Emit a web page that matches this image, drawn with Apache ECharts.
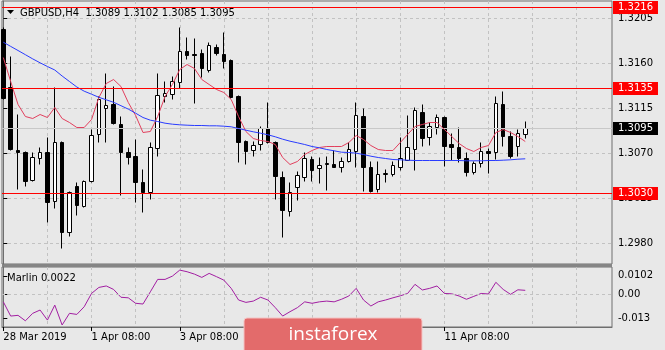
<!DOCTYPE html>
<html>
<head>
<meta charset="utf-8">
<title>GBPUSD H4</title>
<script src="https://cdn.jsdelivr.net/npm/echarts@6/dist/echarts.min.js"></script>
<style>
	html, body { margin: 0; padding: 0; background: #e8e8e8; }
	#myChart { width: 665px; height: 350px; }
</style>
</head>
<body>
<div id="myChart"></div>
<script>
// H4 bars, 28 Mar 2019 .. 12 Apr 2019
var opens = [1.3194, 1.3136, 1.3073, 1.3071, 1.3043, 1.3065, 1.3071, 1.3022, 1.3081, 1.2991,
	1.3037, 1.3017, 1.3042, 1.3089, 1.3115, 1.3119, 1.3099, 1.3071, 1.3067, 1.3041,
	1.3031, 1.3075, 1.3127, 1.3129, 1.3141, 1.3172, 1.3169, 1.3170, 1.3153, 1.3176,
	1.3169, 1.3163, 1.3127, 1.3082, 1.3073, 1.3079, 1.3095, 1.3081, 1.3046, 1.3012,
	1.3036, 1.3046, 1.3064, 1.3055, 1.3059, 1.3059, 1.3056, 1.3062, 1.3072, 1.3107,
	1.3056, 1.3034, 1.3049, 1.3049, 1.3056, 1.3063, 1.3074, 1.3111, 1.3086, 1.3096,
	1.3106, 1.3079, 1.3076, 1.3065, 1.3051, 1.3060, 1.3072, 1.3071, 1.3119, 1.3087,
	1.3077, 1.3089];
var highs = [1.3196, 1.3167, 1.3109, 1.3072, 1.3071, 1.3076, 1.3086, 1.3136, 1.3082, 1.3032,
	1.3041, 1.3043, 1.3094, 1.3127, 1.3150, 1.3137, 1.3107, 1.3076, 1.3084, 1.3054,
	1.3081, 1.3150, 1.3142, 1.3147, 1.3196, 1.3186, 1.3185, 1.3174, 1.3181, 1.3179,
	1.3191, 1.3164, 1.3128, 1.3083, 1.3082, 1.3097, 1.3121, 1.3082, 1.3052, 1.3041,
	1.3052, 1.3071, 1.3067, 1.3066, 1.3067, 1.3073, 1.3066, 1.3081, 1.3121, 1.3115,
	1.3062, 1.3062, 1.3054, 1.3062, 1.3086, 1.3108, 1.3116, 1.3119, 1.3101, 1.3109,
	1.3107, 1.3090, 1.3096, 1.3071, 1.3062, 1.3081, 1.3075, 1.3127, 1.3132, 1.3092,
	1.3094, 1.3102];
var lows = [1.3124, 1.3073, 1.3034, 1.3037, 1.3042, 1.3059, 1.3001, 1.3015, 1.2975, 1.2987,
	1.3008, 1.3016, 1.3041, 1.3081, 1.3081, 1.3099, 1.3028, 1.3059, 1.3021, 1.3011,
	1.3024, 1.3067, 1.3121, 1.3124, 1.3135, 1.3164, 1.3120, 1.3146, 1.3151, 1.3168,
	1.3155, 1.3125, 1.3061, 1.3059, 1.3067, 1.3073, 1.3080, 1.3024, 1.2986, 1.3007,
	1.3023, 1.3042, 1.3042, 1.3040, 1.3033, 1.3056, 1.3051, 1.3061, 1.3056, 1.3032,
	1.3031, 1.3031, 1.3041, 1.3047, 1.3053, 1.3063, 1.3053, 1.3077, 1.3078, 1.3089,
	1.3057, 1.3063, 1.3061, 1.3047, 1.3049, 1.3056, 1.3050, 1.3064, 1.3077, 1.3065,
	1.3067, 1.3085];
var closes = [1.3125, 1.3074, 1.3071, 1.3042, 1.3066, 1.3071, 1.3021, 1.3081, 1.2991, 1.3031,
	1.3018, 1.3042, 1.3088, 1.3124, 1.3118, 1.3100, 1.3071, 1.3066, 1.3041, 1.3031,
	1.3076, 1.3128, 1.3130, 1.3142, 1.3172, 1.3168, 1.3168, 1.3155, 1.3178, 1.3170,
	1.3162, 1.3126, 1.3081, 1.3072, 1.3078, 1.3095, 1.3081, 1.3047, 1.3013, 1.3031,
	1.3048, 1.3065, 1.3053, 1.3058, 1.3060, 1.3056, 1.3062, 1.3074, 1.3108, 1.3056,
	1.3032, 1.3049, 1.3050, 1.3058, 1.3065, 1.3076, 1.3113, 1.3085, 1.3097, 1.3106,
	1.3077, 1.3076, 1.3065, 1.3051, 1.3060, 1.3072, 1.3070, 1.3120, 1.3087, 1.3067,
	1.3090, 1.3095];
// red (fast) moving average
var maFast = [1.3166, 1.3142, 1.3119, 1.3107, 1.3105, 1.3109, 1.3106, 1.3116, 1.3105, 1.3101,
	1.3096, 1.3096, 1.3104, 1.3126, 1.3140, 1.3144, 1.3137, 1.3121, 1.3108, 1.3091,
	1.3092, 1.3107, 1.3127, 1.3139, 1.3154, 1.3159, 1.3155, 1.3144, 1.3139, 1.3134,
	1.3131, 1.3124, 1.3107, 1.3092, 1.3085, 1.3083, 1.3082, 1.3079, 1.3066, 1.3059,
	1.3062, 1.3069, 1.3073, 1.3076, 1.3077, 1.3077, 1.3077, 1.3081, 1.3088, 1.3084,
	1.3078, 1.3074, 1.3073, 1.3073, 1.3081, 1.3089, 1.3097, 1.3099, 1.3101, 1.3101,
	1.3094, 1.3087, 1.3080, 1.3075, 1.3072, 1.3076, 1.3078, 1.3091, 1.3094, 1.3091,
	1.3087, 1.3082];
// blue (slow) moving average
var maSlow = [1.31813, 1.31771, 1.31730, 1.31688, 1.31646, 1.31607, 1.31570, 1.31535, 1.31475, 1.31420,
	1.31365, 1.31323, 1.31293, 1.31262, 1.31237, 1.31212, 1.31178, 1.31144, 1.31103, 1.31060,
	1.31033, 1.31020, 1.31003, 1.30993, 1.30987, 1.30983, 1.30980, 1.30980, 1.30977, 1.30977,
	1.30973, 1.30967, 1.30950, 1.30933, 1.30917, 1.30903, 1.30887, 1.30867, 1.30843, 1.30823,
	1.30807, 1.30790, 1.30770, 1.30757, 1.30740, 1.30727, 1.30713, 1.30710, 1.30703, 1.30690,
	1.30673, 1.30660, 1.30650, 1.30640, 1.30637, 1.30633, 1.30630, 1.30630, 1.30630, 1.30630,
	1.30630, 1.30630, 1.30630, 1.30627, 1.30627, 1.30627, 1.30630, 1.30630, 1.30633, 1.30637,
	1.30643, 1.30647];
// Marlin oscillator (lower window)
var marlin = [-0.0041, -0.0119, -0.0115, -0.0145, -0.0104, -0.0086, -0.0141, -0.0059, -0.0168, -0.0104,
	-0.0110, -0.0068, 0.0005, 0.0038, 0.0046, 0.0027, -0.0016, -0.0019, -0.0049, -0.0053,
	0.0014, 0.0082, 0.0082, 0.0100, 0.0133, 0.0124, 0.0111, 0.0093, 0.0115, 0.0097,
	0.0078, 0.0033, -0.0031, -0.0044, -0.0037, -0.0016, -0.0031, -0.0073, -0.0119, -0.0095,
	-0.0073, -0.0041, -0.0049, -0.0041, -0.0037, -0.0041, -0.0027, -0.0009, 0.0033, -0.0031,
	-0.0064, -0.0041, -0.0031, -0.0019, -0.0008, 0.0005, 0.0055, 0.0024, 0.0033, 0.0046,
	0.0005, 0.0003, -0.0009, -0.0027, -0.0011, 0.0005, 0.0002, 0.0066, 0.0027, 0.0000,
	0.0025, 0.0022];

// horizontal levels and axis labels
var levels = [1.3216, 1.3135, 1.3030];
var lastPrice = 1.3095;
var priceTicks = [1.2980, 1.3025, 1.3070, 1.3115, 1.3160, 1.3205];
var marlinTicks = [0.0102, 0, -0.013];
var marlinTickLabels = ['0.0102', '0.00', '-0.013'];
var dateBars = [0, 12, 24, 36, 48, 60];
var dateLabels = ['28 Mar 2019', '1 Apr 08:00', '3 Apr 08:00', '5 Apr 08:00', '9 Apr 08:00', '11 Apr 08:00'];
var dayBars = [6, 12, 18, 24, 30, 36, 42, 48, 54, 60, 66, 72, 78];

(function() {
	var FONT = 'DejaVu Sans';
	var GRID_COLOR = '#c2c2c2';
	var FRAME_COLOR = '#6e6e6e';
	var xRange = { min: -0.18, max: 82.8 };
	var myChart = echarts.init(document.getElementById('myChart'));

	var candles = [];
	var fastLine = [];
	var slowLine = [];
	var marlinLine = [];
	for (var i = 0; i < opens.length; i++) {
		candles.push([i, opens[i], closes[i], lows[i], highs[i]]);
		fastLine.push([i, maFast[i]]);
		slowLine.push([i, maSlow[i]]);
		marlinLine.push([i, marlin[i]]);
	}
	var last = opens.length - 1;
	var header = 'GBPUSD,H4  ' + opens[last].toFixed(4) + ' ' + highs[last].toFixed(4) + ' ' +
		lows[last].toFixed(4) + ' ' + closes[last].toFixed(4);

	//水平价位线（整条横线 + 右侧价格标签）
	function levelSeries(value, lineColor, labelColor) {
		return {
			type: 'line',
			xAxisIndex: 0,
			yAxisIndex: 0,
			silent: true,
			showSymbol: false,
			clip: false,
			lineStyle: { color: lineColor, width: 1 },
			data: [[xRange.min, value], [xRange.max, value]],
			endLabel: {
				show: true,
				distance: 1,
				color: '#fff',
				backgroundColor: labelColor,
				fontSize: 10,
				fontFamily: FONT,
				padding: [1, 5, 1, 5],
				lineHeight: 11,
				formatter: value.toFixed(4)
			}
		};
	}

	var dashed = { show: true, lineStyle: { color: GRID_COLOR, type: [3, 3], width: 1 } };

	var series = [{
		name: 'GBPUSD',
		type: 'candlestick',
		xAxisIndex: 0,
		yAxisIndex: 0,
		barWidth: 4,
		silent: true,
		itemStyle: {
			color: '#ffffff',
			color0: '#000000',
			borderColor: '#000000',
			borderColor0: '#000000',
			borderWidth: 1
		},
		data: candles
	}, levelSeries(lastPrice, '#c8c8c8', '#000000'), {
		name: 'MA fast',
		type: 'line',
		xAxisIndex: 0,
		yAxisIndex: 0,
		showSymbol: false,
		silent: true,
		lineStyle: { color: '#e2405e', width: 1 },
		data: fastLine
	}, {
		name: 'MA slow',
		type: 'line',
		xAxisIndex: 0,
		yAxisIndex: 0,
		showSymbol: false,
		silent: true,
		lineStyle: { color: '#2a3cff', width: 1 },
		data: slowLine
	}, {
		name: 'Marlin',
		type: 'line',
		xAxisIndex: 1,
		yAxisIndex: 1,
		showSymbol: false,
		silent: true,
		lineStyle: { color: '#a21ea2', width: 1 },
		data: marlinLine,
		markLine: {
			silent: true,
			symbol: ['none', 'none'],
			label: { show: false },
			lineStyle: { color: GRID_COLOR, type: [3, 3], width: 1 },
			data: [{ yAxis: 0 }]
		}
	}];
	levels.forEach(function(v) {
		series.push(levelSeries(v, '#ff0000', '#ff0000'));
	});

	var option = {
		backgroundColor: '#e8e8e8',
		animation: false,
		textStyle: { fontFamily: FONT },
		grid: [{
			left: 2, right: 53, top: 1, height: 263,
			show: true, borderColor: FRAME_COLOR, borderWidth: 1
		}, {
			left: 2, right: 53, top: 267, height: 60,
			show: true, borderColor: FRAME_COLOR, borderWidth: 1
		}],
		xAxis: [{
			type: 'value', gridIndex: 0, position: 'bottom',
			min: xRange.min, max: xRange.max,
			axisLine: { show: false },
			axisTick: { show: false, customValues: dayBars },
			axisLabel: { show: false },
			splitLine: dashed
		}, {
			type: 'value', gridIndex: 1, position: 'bottom',
			min: xRange.min, max: xRange.max,
			axisLine: { show: false },
			axisTick: { show: false, customValues: dayBars },
			axisLabel: { show: false },
			splitLine: dashed
		}, {
			type: 'value', gridIndex: 1, position: 'bottom',
			min: xRange.min, max: xRange.max,
			axisLine: { show: true, lineStyle: { color: FRAME_COLOR } },
			axisTick: { show: true, length: 4, customValues: dateBars, lineStyle: { color: '#000' } },
			axisLabel: {
				customValues: dateBars,
				align: 'left',
				margin: 5,
				color: '#000',
				fontSize: 10,
				fontFamily: FONT,
				formatter: function(v) {
					var k = dateBars.indexOf(Math.round(v));
					return k < 0 ? '' : dateLabels[k];
				}
			},
			splitLine: { show: false }
		}],
		yAxis: [{
			type: 'value', gridIndex: 0, position: 'right',
			// 1 px per pip, levels fall on pixel centres
			min: 1.29595, max: 1.32225,
			axisLine: { show: true, lineStyle: { color: FRAME_COLOR } },
			axisTick: { show: true, length: 4, customValues: priceTicks, lineStyle: { color: '#000' } },
			axisLabel: {
				customValues: priceTicks,
				margin: 6,
				color: '#000',
				fontSize: 10,
				fontFamily: FONT,
				formatter: function(v) { return v.toFixed(4); }
			},
			splitLine: dashed
		}, {
			type: 'value', gridIndex: 1, position: 'right',
			min: -0.0179, max: 0.0150,
			axisLine: { show: true, lineStyle: { color: FRAME_COLOR } },
			axisTick: { show: true, length: 4, customValues: marlinTicks, lineStyle: { color: '#000' } },
			axisLabel: {
				customValues: marlinTicks,
				margin: 6,
				color: '#000',
				fontSize: 10,
				fontFamily: FONT,
				formatter: function(v) {
					var k = marlinTicks.indexOf(v);
					return k < 0 ? v : marlinTickLabels[k];
				}
			},
			splitLine: { show: false }
		}],
		series: series,
		graphic: [{
			//窗口分隔条
			type: 'rect',
			shape: { x: 2, y: 264, width: 610, height: 3 },
			style: { fill: '#858585' },
			silent: true
		}, {
			type: 'polygon',
			shape: { points: [[7, 10], [14, 10], [10.5, 14]] },
			style: { fill: '#000' },
			silent: true
		}, {
			type: 'text',
			x: 20, y: 13,
			style: { text: header, fill: '#000', font: '10px "DejaVu Sans"', verticalAlign: 'middle' },
			silent: true
		}, {
			type: 'text',
			x: 7, y: 278,
			style: { text: 'Marlin ' + marlin[last].toFixed(4), fill: '#000', font: '10px "DejaVu Sans"', verticalAlign: 'middle' },
			silent: true
		}, {
			//水印
			type: 'group',
			z: 100,
			children: [{
				type: 'rect',
				shape: { x: 244, y: 318, width: 178, height: 40, r: 3 },
				style: { fill: '#e36b6b', stroke: '#f5c4c4', lineWidth: 1 },
				z: 100
			}, {
				type: 'text',
				x: 333, y: 335,
				style: { text: 'instaforex', fill: '#fff', font: '19px "Open Sans"', align: 'center', verticalAlign: 'middle' },
				z: 101
			}]
		}]
	};

	myChart.setOption(option);
})();
</script>
</body>
</html>
